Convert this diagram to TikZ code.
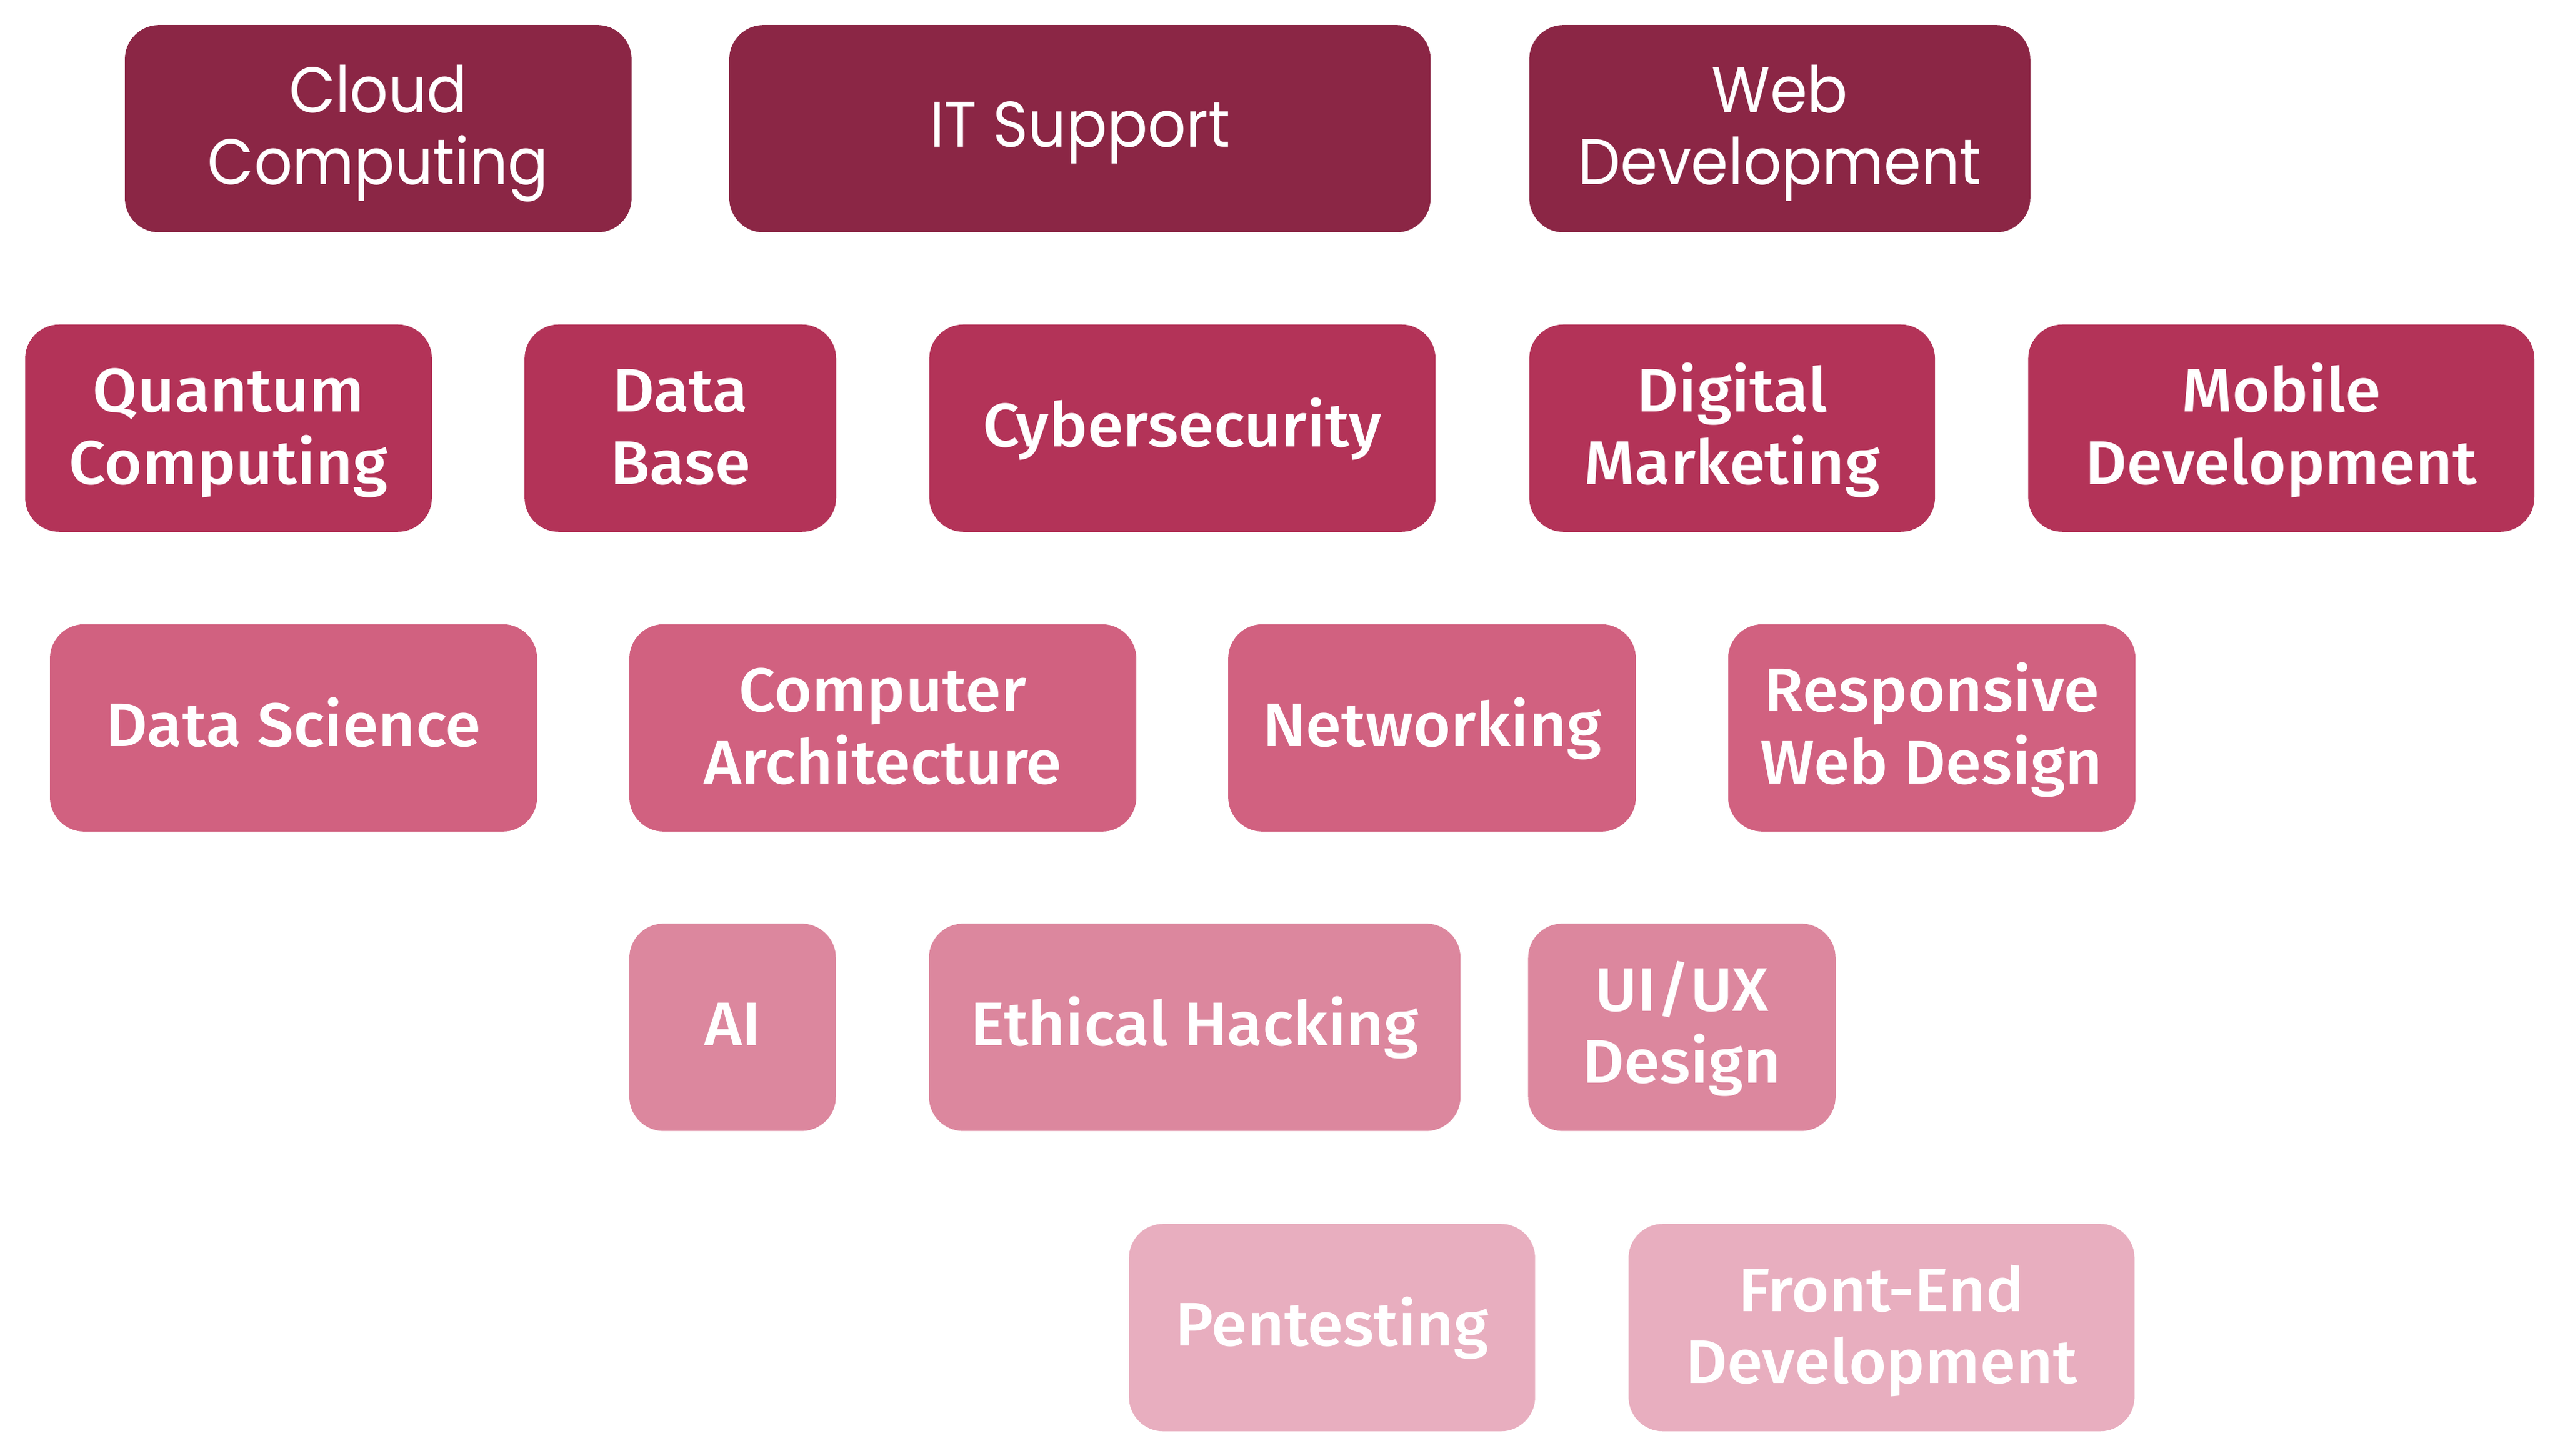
\documentclass[tikz,border=0pt]{standalone}
\usepackage{fontspec}
\usetikzlibrary{calc}
\newfontfamily\topfont{Poppins}[FakeStretch=0.93]
\newfontfamily\restfont{Fira Sans Medium}[FakeStretch=1.05]
\definecolor{cA}{HTML}{8B2645}
\definecolor{cB}{HTML}{B33358}
\definecolor{cC}{HTML}{D16180}
\definecolor{cD}{HTML}{DC879E}
\definecolor{cE}{HTML}{E8AEBF}
\tikzset{
  tile/.style={rounded corners=21pt, inner sep=0pt, outer sep=0pt, minimum height=127pt},
  tA/.style={tile, fill=cA}, tB/.style={tile, fill=cB}, tC/.style={tile, fill=cC},
  tD/.style={tile, fill=cD}, tE/.style={tile, fill=cE},
  lblA/.style={text=white, inner sep=0pt, anchor=base, font=\topfont\fontsize{39.5}{44}\selectfont},
  lblB/.style={text=white, inner sep=0pt, anchor=base, font=\restfont\fontsize{37.7}{44}\selectfont}
}
% #1 name, #2 x1, #3 x2, #4 center y, #5 tile style, #6 label style, #7 text
\newcommand\onetile[7]{%
  \node[#5, minimum width=#3-#2] (#1) at ({(#2+#3)/2},#4) {};
  \node[#6] (#1-a) at ($(#1.center)+(0,11.2)$) {#7};
}
\newcommand\twotile[8]{%
  \node[#5, minimum width=#3-#2] (#1) at ({(#2+#3)/2},#4) {};
  \node[#6] (#1-a) at ($(#1.center)+(0,-10)$) {#7};
  \node[#6] (#1-b) at ($(#1.center)+(0,34.2)$) {#8};
}
\begin{document}
\begin{tikzpicture}[x=1pt,y=-1pt]
\useasboundingbox (0,0) rectangle (1568,891.8);
% row 1
\twotile{cloud}{76.5}{386.9}{78.85}{tA}{lblA}{Cloud}{Computing}
\onetile{itsup}{446.7}{876.3}{78.85}{tA}{lblA}{IT Support}
\twotile{webdev}{936.7}{1243.6}{78.85}{tA}{lblA}{Web}{Development}
% row 2
\twotile{quantum}{15.4}{264.6}{262.25}{tB}{lblB}{Quantum}{Computing}
\twotile{database}{321.3}{512.2}{262.25}{tB}{lblB}{Data}{Base}
\onetile{cyber}{569.2}{879.3}{262.25}{tB}{lblB}{Cybersecurity}
\twotile{digital}{936.7}{1185.2}{262.25}{tB}{lblB}{Digital}{Marketing}
\twotile{mobile}{1242.3}{1552.3}{262.25}{tB}{lblB}{Mobile}{Development}
% row 3
\onetile{datasci}{30.6}{329}{445.85}{tC}{lblB}{Data Science}
\twotile{comparch}{385.5}{696}{445.85}{tC}{lblB}{Computer}{Architecture}
\onetile{network}{752.3}{1002}{445.85}{tC}{lblB}{Networking}
\twotile{respweb}{1058.5}{1308}{445.85}{tC}{lblB}{Responsive}{Web Design}
% row 4
\onetile{ai}{385.5}{512}{629.25}{tD}{lblB}{AI}
\onetile{ethical}{569}{894.6}{629.25}{tD}{lblB}{Ethical Hacking}
\twotile{uiux}{936}{1124.3}{629.25}{tD}{lblB}{UI/UX}{Design}
% row 5
\onetile{pentest}{691.5}{940.3}{813.15}{tE}{lblB}{Pentesting}
\twotile{frontend}{997.5}{1307.4}{813.15}{tE}{lblB}{Front-End}{Development}
\end{tikzpicture}
\end{document}
